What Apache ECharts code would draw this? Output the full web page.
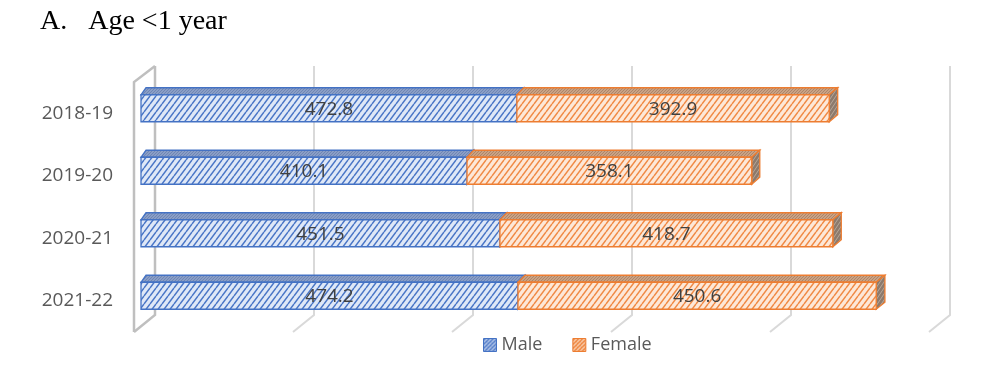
<!DOCTYPE html>
<html>
<head>
<meta charset="utf-8">
<script src="https://cdn.jsdelivr.net/npm/echarts@6/dist/echarts.min.js"></script>
<style>html,body{margin:0;padding:0;background:#fff}#c{width:1000px;height:367px}</style>
</head>
<body>
<div id="c"></div>
<script>
const categories = ['2018-19', '2019-20', '2020-21', '2021-22'];
const male = [472.8, 410.1, 451.5, 474.2];
const female = [392.9, 358.1, 418.7, 450.6];
const xTicks = [0, 200, 400, 600, 800, 1000];

function hatch(bg, fg, lw, w, h) {
  const c = document.createElement('canvas');
  c.width = w; c.height = h;
  const g = c.getContext('2d');
  g.fillStyle = bg; g.fillRect(0, 0, w, h);
  g.strokeStyle = fg; g.lineWidth = lw;
  g.beginPath();
  for (const x of [-w, 0, w]) { g.moveTo(x, h); g.lineTo(x + w, 0); }
  g.stroke();
  return { image: c, repeat: 'repeat' };
}
const maleFront = hatch('#dfe8f7', '#4a76c6', 1.5, 6, 8);
const femaleFront = hatch('#fde8d8', '#f08a45', 1.5, 6, 8);
const maleTop = hatch('#8a9ec6', '#6f86b4', 1, 3, 3);
const femaleTop = hatch('#c9a285', '#ad8568', 1, 3, 3);
const femaleSide = hatch('#8d7a6c', '#b8a899', 1, 4, 6);
const maleIcon = hatch('#4472c4', '#c9d7f0', 1.4, 4, 4);
const femaleIcon = hatch('#ed7d31', '#fbd9c0', 1.4, 4, 4);

const GRID_TOP = 82, GRID_H = 250, GRID_LEFT = 141, GRID_W = 795;
const BAR_H = 27, BAR_SHIFT = -5, DEPTH_Y = 7;
function depthX(x) { return 5 + 4 * (x - GRID_LEFT) / GRID_W; }

function makeBar(front, top, side, stroke) {
  return function (params, api) {
    const s = api.value(0), e = api.value(1), ci = api.value(2);
    const p0 = api.coord([s, ci]), p1 = api.coord([e, ci]);
    const yc = p0[1] + BAR_SHIFT;
    const yT = yc - BAR_H / 2, yB = yc + BAR_H / 2;
    const x0 = p0[0], x1 = p1[0];
    const d0 = depthX(x0), d1 = depthX(x1);
    const lw = 1.3;
    return {
      type: 'group',
      children: [
        { type: 'polygon', shape: { points: [[x0, yT], [x1, yT], [x1 + d1, yT - DEPTH_Y], [x0 + d0, yT - DEPTH_Y]] },
          style: { fill: top, stroke: stroke, lineWidth: lw } },
        { type: 'polygon', shape: { points: [[x1, yT], [x1 + d1, yT - DEPTH_Y], [x1 + d1, yB - DEPTH_Y], [x1, yB]] },
          style: { fill: side, stroke: stroke, lineWidth: lw } },
        { type: 'rect', shape: { x: x0, y: yT, width: x1 - x0, height: BAR_H },
          style: { fill: front, stroke: stroke, lineWidth: lw } },
        { type: 'text', x: (x0 + x1) / 2, y: yc + 1,
          style: { text: (e - s).toFixed(1), fill: '#404040', font: '19px "Open Sans"', align: 'center', verticalAlign: 'middle' } }
      ]
    };
  };
}

function renderFrame(params, api) {
  const v = api.value(0);
  const x = api.coord([v, 0])[0];
  const frontTop = GRID_TOP, frontBot = GRID_TOP + GRID_H;
  const backTop = 66, backBot = 315;
  const bx = x + 14, fx = x - 7;
  const ch = [
    { type: 'polyline', shape: { points: [[bx, backTop], [bx, backBot], [fx, frontBot]] },
      style: { stroke: v === 0 ? '#bfbfbf' : '#d9d9d9', lineWidth: v === 0 ? 2.5 : 2, fill: null } }
  ];
  if (v === 0) {
    ch.push({ type: 'polyline', shape: { points: [[bx, backTop], [fx, frontTop], [fx, frontBot]] },
      style: { stroke: '#bfbfbf', lineWidth: 2.5, fill: null } });
  }
  return { type: 'group', children: ch };
}

const chart = echarts.init(document.getElementById('c'), null, { renderer: 'canvas' });
chart.setOption({
  animation: false,
  backgroundColor: '#fff',
  title: {
    text: 'A.   Age <1 year', left: 35, top: 3,
    textStyle: { fontFamily: '"Liberation Serif", "Times New Roman", serif', fontSize: 28, fontWeight: 'normal', color: '#000' }
  },
  legend: {
    left: 478, top: 331, itemWidth: 13, itemHeight: 13, itemGap: 30,
    icon: 'rect',
    textStyle: { fontFamily: '"Open Sans"', fontSize: 18, color: '#595959', padding: [0, 0, 0, 0] },
    data: [
      { name: 'Male', itemStyle: { color: maleIcon, borderColor: '#4472c4', borderWidth: 1 } },
      { name: 'Female', itemStyle: { color: femaleIcon, borderColor: '#ed7d31', borderWidth: 1 } }
    ]
  },
  grid: { left: GRID_LEFT, top: GRID_TOP, width: GRID_W, height: GRID_H },
  xAxis: {
    type: 'value', min: 0, max: 1000, interval: 200,
    axisLabel: { show: false }, axisLine: { show: false }, axisTick: { show: false }, splitLine: { show: false }
  },
  yAxis: {
    type: 'category', data: categories, inverse: true,
    axisLine: { show: false }, axisTick: { show: false }, splitLine: { show: false },
    axisLabel: { margin: 28, color: '#595959', fontFamily: '"Open Sans"', fontSize: 19, padding: [3, 0, 0, 0] }
  },
  series: [
    { type: 'custom', name: 'frame', z: 1, silent: true, renderItem: renderFrame,
      encode: { x: 0, y: 1 }, data: xTicks.map(v => [v, 0]) },
    { type: 'custom', name: 'Male', z: 2, renderItem: makeBar(maleFront, maleTop, '#7f96c4', '#4472c4'),
      itemStyle: { color: maleIcon, borderColor: '#4472c4' },
      encode: { x: [0, 1], y: 2 }, data: categories.map((c, i) => [0, male[i], i]) },
    { type: 'custom', name: 'Female', z: 3, renderItem: makeBar(femaleFront, femaleTop, femaleSide, '#ed7d31'),
      itemStyle: { color: femaleIcon, borderColor: '#ed7d31' },
      encode: { x: [0, 1], y: 2 }, data: categories.map((c, i) => [male[i], male[i] + female[i], i]) }
  ]
});
</script>
</body>
</html>
